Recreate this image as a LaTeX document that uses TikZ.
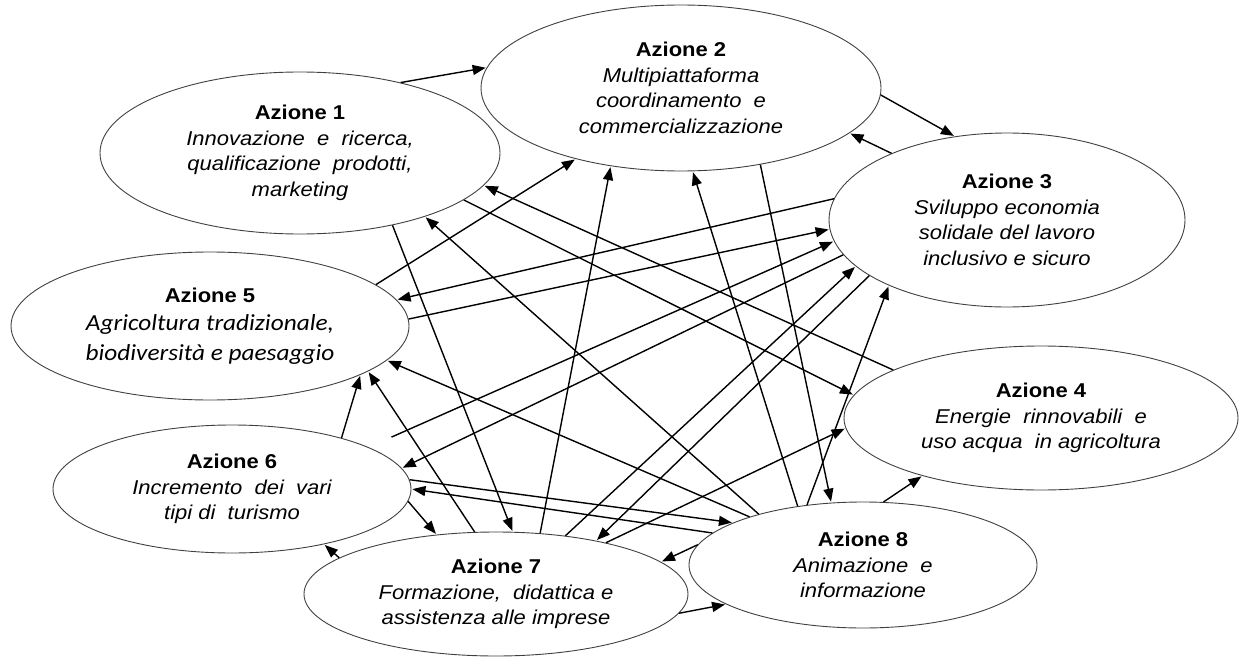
\documentclass[tikz,border=0pt]{standalone}
\usepackage{fontspec}
\setmainfont{Liberation Sans}[FakeStretch=1.1]
\newfontfamily\calibrifont{Carlito}[FakeStretch=1.1]
\usetikzlibrary{shapes.geometric, arrows.meta}

\begin{document}
\begin{tikzpicture}[x=1pt, y=-1pt,
  azione/.style={draw=black!75, line width=0.9pt, ellipse, inner sep=0pt, align=center,
    font=\fontsize{20}{25.5}\selectfont},
  freccia/.style={-{Triangle[length=13pt,width=10pt]}, line width=1.4pt, shorten >=1pt}]

\useasboundingbox (0,0) rectangle (1239,658);

% Azioni
\node[azione, minimum width=400pt, minimum height=162pt] (a1) at (300,153)
  {\textbf{Azione 1}\\\itshape Innovazione\ \ e\ \ ricerca,\\\itshape qualificazione\ \ prodotti,\\\itshape marketing};
\node[azione, minimum width=400pt, minimum height=166pt] (a2) at (681,88)
  {\textbf{Azione 2}\\\itshape Multipiattaforma\\\itshape coordinamento\ \ e\\\itshape commercializzazione};
\node[azione, minimum width=356pt, minimum height=174pt] (a3) at (1007,220)
  {\textbf{Azione 3}\\\itshape Sviluppo economia\\\itshape solidale del lavoro\\\itshape inclusivo e sicuro};
\node[azione, minimum width=394pt, minimum height=144pt] (a4) at (1041,418)
  {\textbf{Azione 4}\\\itshape Energie\ \ rinnovabili\ \ e\\\itshape uso acqua\ \ in agricoltura};
\node[azione, minimum width=398pt, minimum height=148pt] (a5) at (210,326)
  {\textbf{Azione 5}\\[3pt]{\calibrifont\itshape\fontsize{23}{28}\selectfont Agricoltura tradizionale,}\\[4pt]{\calibrifont\itshape\fontsize{23}{28}\selectfont biodiversità e paesaggio}};
\node[azione, minimum width=358pt, minimum height=128pt] (a6) at (232,489)
  {\textbf{Azione 6}\\\itshape Incremento\ \ dei\ \ vari\\\itshape tipi di\ \ turismo};
\node[azione, minimum width=384pt, minimum height=124pt] (a7) at (496,594)
  {\textbf{Azione 7}\\\itshape Formazione,\ \ didattica e\\\itshape assistenza alle imprese};
\node[azione, minimum width=348pt, minimum height=126pt] (a8) at (863,565)
  {\textbf{Azione 8}\\\itshape Animazione\ \ e\\\itshape informazione};

% Azione 1
\draw[freccia] (a1.35.4) -- (a2.174.8);
\draw[freccia] (a1.-38.7) -- (a7.75.5);
\draw[freccia] (a1.-16.5) -- (a4.173);

% Azione 2
\draw[freccia] (a2.-2.8) -- (a3.122.9);
\draw[freccia] (a2.-44.2) -- (a8.117.2);

% Azione 3
\draw[freccia] (a3.150.1) -- (a2.-15.8);
\draw[freccia] (a3.173.9) -- (a5.8.8);
\draw[freccia] (a3.-168.8) -- (a6.7.2);
\draw[freccia] (a3.-158.9) -- (a7.28.1);

% Azione 4
\draw[freccia] (a4.162.7) -- (a1.-10.3);

% Azione 5
\draw[freccia] (a5.14) -- (a2.214.3);
\draw[freccia] (a5.2.6) -- (a3.-177.4);

% Azione 6
\draw[freccia, shorten <=25pt] (a6.17.3) -- (a3.-173.6);
\draw[freccia] (a6.3.2) -- (a8.162.9);
\draw[freccia] (a6.-4.2) -- (a7.135);
\draw[freccia] (a6.25.7) -- (a5.-18.2);

% Azione 7
\draw[freccia] (a7.167.7) -- (a6.-31.1);
\draw[freccia] (a7.109) -- (a5.-16.1);
\draw[freccia] (a7.54.2) -- (a2.-132.2);
\draw[freccia] (a7.40) -- (a3.-163.5);
\draw[freccia] (a7.25.9) -- (a4.-177.2);
\draw[freccia] (a7.-6.2) -- (a8.-164);

% Azione 8
\draw[freccia] (a8.154.7) -- (a1.-27.6);
\draw[freccia] (a8.157.9) -- (a5.-11.6);
\draw[freccia] (a8.138) -- (a2.-82.8);
\draw[freccia] (a8.133.1) -- (a3.-151.1);
\draw[freccia] (a8.72.4) -- (a4.-154.3);
\draw[freccia] (a8.168.1) -- (a6.-0.9);
\draw[freccia] (a8.173.1) -- (a7.11.9);

\end{tikzpicture}
\end{document}
